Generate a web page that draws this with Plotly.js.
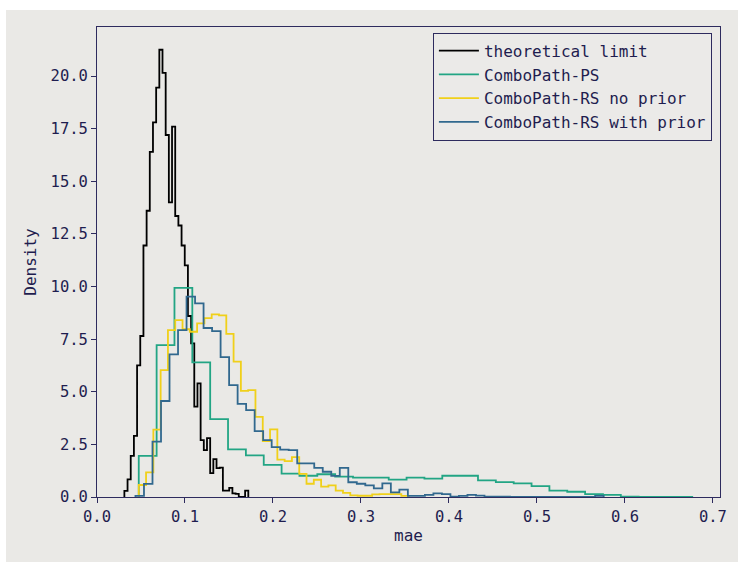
<!DOCTYPE html>
<html>
<head>
<meta charset="utf-8">
<script src="https://cdn.plot.ly/plotly-3.0.1.min.js"></script>
<style>
  html, body { margin: 0; padding: 0; background: #ffffff; width: 738px; height: 562px; overflow: hidden; }
  #chart { position: absolute; left: 6px; top: 10px; width: 732px; height: 552px; }
</style>
</head>
<body>
<div id="chart"></div>
<script>
// Series names
const seriesNames = ["theoretical limit", "ComboPath-PS", "ComboPath-RS no prior", "ComboPath-RS with prior"];

// Histogram bins (left edge of first bin, bin width) and densities per bin
const theoreticalStart = 0.03111;
const theoreticalWidth = 0.003611;
const theoreticalDensity = [0.29, 0.84, 1.95, 2.9, 6.25, 7.65, 11.95, 13.6, 16.4, 17.8,
  19.45, 21.25, 20.15, 17.2, 14.0, 17.6, 13.35, 12.9, 11.95, 11.0,
  8.6, 7.3, 4.29, 5.4, 2.7, 2.23, 2.8, 1.13, 1.8, 1.37,
  1.4, 0.3, 0.3, 0.43, 0.17, 0.15, 0.0, 0.0, 0.3];

const psStart = 0.04746;
const psWidth = 0.02029;
const psDensity = [1.95, 7.22, 9.94, 6.4, 3.7, 2.26, 1.98, 1.53, 1.11, 1.01,
  1.08, 0.97, 0.92, 0.92, 0.83, 0.92, 0.87, 1.01, 1.01, 0.79,
  0.71, 0.65, 0.52, 0.3, 0.25, 0.14, 0.1, 0.02, 0.01, 0.01, 0.01];

const rsNoPriorStart = 0.04746;
const rsNoPriorWidth = 0.008289;
const rsNoPriorDensity = [0.57, 1.17, 3.2, 6.03, 7.93, 8.4, 7.97, 7.85, 8.25, 8.5,
  8.68, 8.63, 7.75, 6.43, 5.04, 5.08, 3.81, 2.66, 3.21, 1.78,
  1.7, 1.89, 1.1, 0.63, 0.82, 0.49, 0.55, 0.3, 0.2, 0.08,
  0.06, 0.06, 0.12, 0.14, 0.14, 0.14, 0.05];

const rsPriorStart = 0.04372;
const rsPriorWidth = 0.009674;
const rsPriorDensity = [0.05, 0.62, 2.63, 4.56, 6.78, 7.93, 9.52, 9.2, 8.03, 7.88,
  6.65, 5.32, 4.42, 4.13, 3.13, 2.7, 2.37, 2.25, 2.23, 1.6,
  1.6, 1.38, 1.2, 1.0, 1.38, 0.7, 0.63, 0.55, 0.41, 0.65,
  0.22, 0.35, 0.05, 0.05, 0.1, 0.17, 0.14, 0.02, 0.05, 0.1,
  0.07, 0.02, 0.02, 0.02, 0.01, 0.01, 0.01, 0.01, 0.01, 0.01,
  0.01, 0.01, 0.01, 0.01, 0.05];

const xTickVals = [0.0, 0.1, 0.2, 0.3, 0.4, 0.5, 0.6, 0.7];
const yTickVals = [0.0, 2.5, 5.0, 7.5, 10.0, 12.5, 15.0, 17.5, 20.0];

const colors = ["#000000", "#22a584", "#f0d01a", "#31688e"];

function stepOutline(start, width, dens) {
  const xs = [start], ys = [0];
  for (let i = 0; i < dens.length; i++) {
    xs.push(start + i * width);
    ys.push(dens[i]);
  }
  xs.push(start + dens.length * width);
  ys.push(0);
  return {xs, ys};
}

const sets = [
  [theoreticalStart, theoreticalWidth, theoreticalDensity],
  [psStart, psWidth, psDensity],
  [rsNoPriorStart, rsNoPriorWidth, rsNoPriorDensity],
  [rsPriorStart, rsPriorWidth, rsPriorDensity]
];

const traces = sets.map((s, i) => {
  const o = stepOutline(s[0], s[1], s[2]);
  return {
    type: "scatter",
    mode: "lines",
    x: o.xs,
    y: o.ys,
    name: seriesNames[i],
    line: {shape: "hv", color: colors[i], width: 1.8},
    hoverinfo: "skip"
  };
});

const ink = "#1f1d4f";
const spine = "#2e2b5e";
const font = "DejaVu Sans Mono, monospace";

const layout = {
  width: 732,
  height: 552,
  paper_bgcolor: "#eae9e6",
  plot_bgcolor: "#eae9e6",
  margin: {l: 91, r: 18, t: 17, b: 65, pad: 0},
  font: {family: font, size: 15.5, color: ink},
  showlegend: true,
  legend: {
    x: 0.987, y: 0.988, xanchor: "right", yanchor: "top",
    bgcolor: "#ebeae8", bordercolor: spine, borderwidth: 1,
    font: {family: font, size: 16, color: ink},
    tracegroupgap: 0,
    itemwidth: 40
  },
  xaxis: {
    range: [0, 0.708],
    tickvals: xTickVals,
    tickformat: ".1f",
    ticks: "outside", ticklen: 5, tickwidth: 1, tickcolor: spine,
    showline: true, linecolor: spine, linewidth: 1, mirror: true,
    showgrid: false, zeroline: false,
    tickfont: {family: font, size: 15.5, color: ink},
    title: {text: "mae", font: {family: font, size: 16, color: ink}, standoff: 5}
  },
  yaxis: {
    range: [0, 22.33],
    tickvals: yTickVals,
    tickformat: ".1f",
    ticks: "outside", ticklen: 5, tickwidth: 1, tickcolor: spine,
    showline: true, linecolor: spine, linewidth: 1, mirror: true,
    showgrid: false, zeroline: false,
    tickfont: {family: font, size: 15.5, color: ink},
    title: {text: "Density", font: {family: font, size: 16, color: ink}, standoff: 9}
  }
};

Plotly.newPlot("chart", traces, layout, {displayModeBar: false, staticPlot: true});
</script>
</body>
</html>
